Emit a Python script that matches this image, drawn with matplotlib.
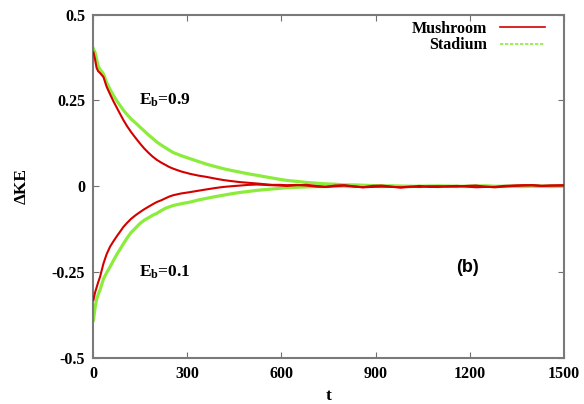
import matplotlib
matplotlib.use('Agg')
import matplotlib.pyplot as plt

plt.rcParams['font.family'] = ['Liberation Serif', 'DejaVu Serif']
plt.rcParams['font.weight'] = 'bold'
plt.rcParams['axes.labelweight'] = 'bold'
plt.rcParams['mathtext.fontset'] = 'custom'
plt.rcParams['mathtext.rm'] = 'Liberation Serif:bold'
plt.rcParams['mathtext.it'] = 'Liberation Serif:bold'
plt.rcParams['mathtext.bf'] = 'Liberation Serif:bold'

# time samples
t = [0, 5, 10, 15, 21, 32, 42, 53, 64, 75, 86, 96, 108, 120, 135, 149, 162, 175, 188,
     202, 216, 230, 242, 255, 280, 309, 335, 362, 390, 415, 440, 468, 495, 521, 545,
     570, 595, 617, 650, 680, 710, 740, 770, 800, 830, 860, 890, 920, 950, 980,
     1010, 1040, 1070, 1100, 1130, 1160, 1190, 1220, 1250, 1280, 1310, 1340,
     1370, 1400, 1430, 1460, 1500]

# Eb = 0.9 (upper branch)
mush_hi = [0.39, 0.37, 0.345, 0.335, 0.33, 0.318, 0.29, 0.268, 0.247, 0.228, 0.209,
           0.192, 0.174, 0.158, 0.140, 0.124, 0.110, 0.098, 0.087, 0.077, 0.069, 0.062,
           0.056, 0.051, 0.043, 0.036, 0.031, 0.027, 0.022, 0.018, 0.015, 0.012, 0.010,
           0.008, 0.006, 0.004, 0.004, 0.003, 0.004, 0.002, -0.001, -0.002, 0.002,
           0.003, 0.000, -0.003, 0.001, 0.002, -0.001, -0.004, -0.002, 0.001, -0.002,
           -0.002, 0.000, 0.001, -0.001, -0.003, -0.002, -0.002, 0.001, 0.002, 0.003,
           0.003, 0.001, 0.002, 0.002]
stad_hi = [0.40, 0.39, 0.37, 0.35, 0.34, 0.327, 0.302, 0.282, 0.264, 0.248, 0.234,
           0.221, 0.208, 0.196, 0.184, 0.172, 0.161, 0.150, 0.140, 0.129, 0.120, 0.112,
           0.105, 0.098, 0.089, 0.080, 0.072, 0.064, 0.057, 0.051, 0.046, 0.041, 0.036,
           0.032, 0.028, 0.024, 0.020, 0.017, 0.014, 0.011, 0.009, 0.007, 0.006, 0.004,
           0.004, 0.003, 0.002, 0.001, 0.001, 0.000, 0.000, -0.001, 0.000, 0.001,
           0.000, -0.001, 0.000, 0.000, 0.001, 0.000, -0.001, 0.000, 0.000, 0.001,
           0.000, 0.000, 0.000]

# Eb = 0.1 (lower branch)
mush_lo = [-0.331, -0.31, -0.295, -0.28, -0.264, -0.225, -0.198, -0.176, -0.160, -0.145,
           -0.131, -0.118, -0.106, -0.095, -0.084, -0.075, -0.067, -0.060, -0.053,
           -0.046, -0.041, -0.035, -0.030, -0.026, -0.021, -0.017, -0.013, -0.009,
           -0.005, -0.002, 0.000, 0.002, 0.004, 0.005, 0.004, 0.003, 0.002, 0.001,
           0.003, 0.004, 0.001, -0.002, 0.000, 0.002, -0.001, -0.003, -0.002, -0.001,
           -0.002, -0.003, -0.001, -0.002, 0.000, 0.000, -0.001, -0.001, 0.001, 0.002,
           -0.001, -0.003, -0.001, 0.001, 0.002, 0.003, 0.001, 0.002, 0.003]
stad_lo = [-0.39, -0.355, -0.33, -0.315, -0.302, -0.27, -0.252, -0.235, -0.216, -0.198,
           -0.182, -0.167, -0.150, -0.135, -0.121, -0.108, -0.099, -0.092, -0.085,
           -0.079, -0.071, -0.064, -0.060, -0.056, -0.051, -0.046, -0.040, -0.035,
           -0.030, -0.026, -0.022, -0.018, -0.015, -0.012, -0.010, -0.008, -0.006,
           -0.004, -0.003, -0.002, -0.001, -0.001, 0.000, 0.000, -0.001, 0.000, 0.000,
           -0.001, 0.000, 0.000, -0.001, 0.000, 0.000, -0.001, 0.000, 0.000, -0.001,
           0.000, 0.000, -0.001, 0.000, 0.000, -0.001, 0.000, 0.000, -0.001, 0.000]

xticks = [0, 300, 600, 900, 1200, 1500]
yticks = [-0.5, -0.25, 0, 0.25, 0.5]
yticklabels = ['-0.5', '-0.25', '0', '0.25', '0.5']

red = '#d40000'
green = '#8cec3c'

fig = plt.figure(figsize=(5.84, 4.04), dpi=100)
ax = fig.add_axes([0.16, 0.114, 0.805, 0.85])

ax.plot(t, stad_hi, color=green, lw=2.3, zorder=2)
ax.plot(t, stad_lo, color=green, lw=2.3, zorder=2)
ax.plot(t, mush_hi, color=red, lw=1.5, zorder=3)
ax.plot(t, mush_lo, color=red, lw=1.5, zorder=3)

# legend handles
ax.plot([], [], color=red, lw=1.2, label='Mushroom')
ax.plot([], [], color=green, lw=1.2, ls=(0, (2, 1)), label='Stadium')
handles, labels = ax.get_legend_handles_labels()
ax.legend(handles, labels, loc='upper right', frameon=False, markerfirst=False,
          handlelength=2.8, borderaxespad=0.2, labelspacing=0.05,
          bbox_to_anchor=(0.98, 1.01), prop={'weight': 'bold', 'size': 11.5})

ax.set_xlim(0, 1500)
ax.set_ylim(-0.5, 0.5)
ax.set_xticks(xticks)
ax.set_xticklabels([str(v) for v in xticks], fontweight='bold')
ax.set_yticks(yticks)
ax.set_yticklabels(yticklabels, fontweight='bold')
ax.tick_params(direction='in', top=True, right=True, labelsize=11.5, length=4,
               color='#707070', pad=6)

for s in ax.spines.values():
    s.set_color('#7a7a7a')
    s.set_linewidth(1.5)

ax.text(228, 0.25, r'E$_\mathrm{b}$=0.9', fontsize=12.5, fontweight='bold',
        ha='center', va='center')
ax.text(228, -0.25, r'E$_\mathrm{b}$=0.1', fontsize=12.5, fontweight='bold',
        ha='center', va='center')
ax.text(1195, -0.238, '(b)', fontsize=13, family='Liberation Sans', weight='bold',
        ha='center', va='center')

ax.set_xlabel('t', fontsize=12.5, fontweight='bold', labelpad=4)
ax.set_ylabel('ΔKE', fontsize=12.5, fontweight='bold', labelpad=16)

fig.savefig('out.png', dpi=100)
